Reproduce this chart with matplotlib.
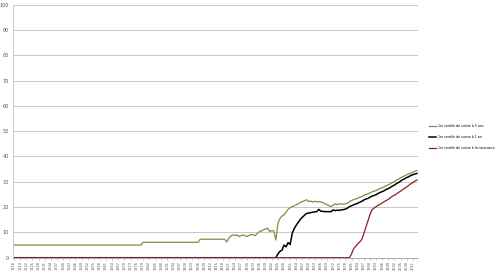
import numpy as np
import matplotlib.pyplot as plt

years = np.arange(1816, 2014)

# 1er centile de survie a 5 ans
green = ([5.0] * 63 + [6.1] * 28 + [7.3] * 13 +
         [6.2, 7.8, 8.6, 9.0, 8.8, 9.0, 8.4, 8.7, 9.0, 8.6,
          8.4, 8.9, 9.2, 9.0, 8.8, 9.6, 10.3, 10.6, 11.1, 11.3,
          11.7, 10.3, 10.8, 10.5, 7.0, 13.5, 15.5, 16.5, 16.8, 18.0,
          19.1, 19.8, 20.2, 20.5, 20.9, 21.3, 21.8, 22.2, 22.5, 22.9,
          22.2, 22.4, 22.0, 22.3, 22.1, 22.2, 22.0, 21.8, 21.3, 21.0,
          20.6, 20.2, 20.8, 21.3, 21.0, 21.2, 21.3, 21.1, 21.3, 21.6,
          22.2, 22.6, 23.0, 23.2, 23.5, 23.9, 24.1, 24.6, 25.0, 25.2,
          25.6, 26.0, 26.3, 26.5, 27.0, 27.4, 27.6, 28.0, 28.5, 28.8,
          29.2, 29.7, 30.1, 30.7, 31.0, 31.6, 32.0, 32.4, 32.8, 33.1,
          33.5, 33.8, 34.2, 34.4])

# 1er centile de survie a 1 an
black = ([0.0] * 129 +
         [1.5, 2.5, 3.0, 5.0, 4.3,
          6.0, 5.2, 9.6, 11.5, 12.9, 14.0, 15.2, 16.0, 16.8, 17.5,
          17.6, 17.8, 18.0, 18.1, 18.2, 19.1, 18.4, 18.3, 18.2, 18.2,
          18.2, 18.2, 18.9, 18.6, 18.8, 18.7, 18.9, 19.0, 19.2, 19.6,
          20.2, 20.5, 20.9, 21.2, 21.5, 21.9, 22.3, 22.8, 23.2, 23.4,
          23.9, 24.3, 24.6, 24.9, 25.4, 25.8, 26.1, 26.5, 27.0, 27.3,
          27.8, 28.3, 28.7, 29.3, 29.7, 30.3, 30.8, 31.2, 31.7, 32.0,
          32.5, 32.8, 33.1, 33.3])

# 1er centile de survie a la naissance
red = ([0.0] * 165 +
       [1.5, 3.5, 4.5, 5.5, 6.2, 7.2, 9.5, 12.0, 14.5,
        17.0, 18.9, 19.6, 20.2, 20.7, 21.2, 21.6, 22.2, 22.6, 23.1,
        23.7, 24.3, 24.7, 25.2, 25.8, 26.3, 26.9, 27.5, 28.0, 28.6,
        29.2, 29.7, 30.3, 30.7])

labels = ["1er centile de survie à 5 ans",
          "1er centile de survie à 1 an",
          "1er centile de survie à la naissance"]
tick_years = years[::3]

fig = plt.figure(figsize=(5, 2.71), dpi=100)
ax = fig.add_axes([0.026, 0.049, 0.81, 0.934])

ax.plot(years, green, color='#77933C', lw=0.9, label=labels[0])
ax.plot(years, black, color='#000000', lw=1.1, label=labels[1])
ax.plot(years, red, color='#8B1E2B', lw=0.9, label=labels[2])

ax.set_xlim(1815.5, 2013.5)
ax.set_ylim(0, 100)
ax.set_yticks(range(0, 101, 10))
ax.yaxis.grid(True, color='#C8C8C8', lw=0.7)
ax.set_axisbelow(True)
ax.set_xticks(tick_years)
ax.set_xticklabels([str(y) for y in tick_years], rotation=90, fontsize=2.5, color='#555555')
ax.tick_params(axis='y', labelsize=3.5, labelcolor='#555555', length=0, pad=3)
ax.tick_params(axis='x', length=1.5, width=0.4, color='#999999', pad=1)

for s in ['top', 'right']:
    ax.spines[s].set_visible(False)
ax.spines['left'].set_color('#D0D0D0')
ax.spines['bottom'].set_color('#A0A0A0')
ax.spines['bottom'].set_linewidth(0.6)

fig.legend(loc='upper left', bbox_to_anchor=(0.852, 0.552), frameon=False,
           fontsize=2.35, handlelength=2.3, labelspacing=2.1, handletextpad=0.4)

fig.savefig('out.png', dpi=100)
